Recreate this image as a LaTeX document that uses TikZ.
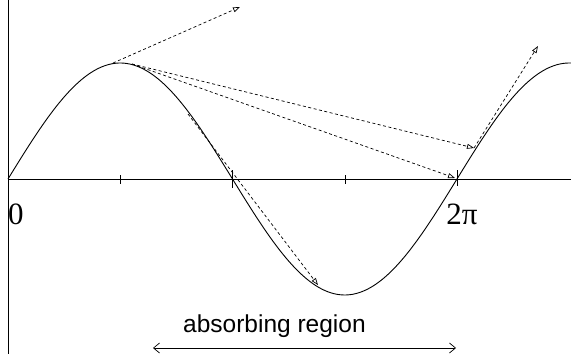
\documentclass[tikz,border=0pt]{standalone}
\usepackage{fontspec}
\setmainfont{Liberation Serif}
\newfontfamily\arialfont{Liberation Sans}
\usetikzlibrary{arrows.meta}
\begin{document}
\begin{tikzpicture}[x=1pt,y=-1pt,
  axisline/.style={line width=0.9pt},
  curveline/.style={line width=0.9pt},
  vec/.style={line width=0.7pt, dash pattern=on 3pt off 2.5pt, -{Triangle[open,length=7pt,width=5pt]}},
  lbl/.style={font=\fontsize{31}{33}\selectfont, inner sep=0pt},
  region/.style={font=\arialfont\fontsize{24.5}{28}\selectfont, inner sep=0pt}]
\useasboundingbox (0,0) rectangle (571,364);
% axes
\coordinate (ytop) at (8,0);
\coordinate (ybot) at (8,354);
\coordinate (xl) at (8,179);
\coordinate (xr) at (571,179);
\draw[axisline] (ytop) -- (ybot);
\draw[axisline] (xl) -- (xr);
% ticks
\draw[axisline] (120,175) -- (120,184);
\draw[axisline] (232,170) -- (232,188);
\draw[axisline] (345,175) -- (345,184);
\draw[axisline] (457,170) -- (457,186);
% sine curve
\draw[curveline, domain=8:571, samples=200, smooth] plot (\x,{179-116*sin((\x-8)/449*360)});
% labels
\node[lbl] (zero) at (16,214) {0};
\node[lbl] (twopi) at (462,214) {2π};
% vectors
\coordinate (p0) at (113,63);
\coordinate (p1) at (132,64);
\coordinate (a1) at (240,7);
\coordinate (a2) at (474,148);
\coordinate (a3) at (455,178);
\coordinate (p4) at (188,114);
\coordinate (a4) at (318,285);
\coordinate (a5) at (538,46);
\draw[vec] (p0) -- (a1);
\draw[vec] (p1) -- (a2);
\draw[vec] (p1) -- (a3);
\draw[vec] (p4) -- (a4);
\draw[vec] (a2) -- (a5);
% absorbing region
\node[region, anchor=base west] (reg) at (183,332) {absorbing region};
\coordinate (rl) at (153,348);
\coordinate (rr) at (456,348);
\draw[line width=0.7pt, {Straight Barb[length=6pt,width=10pt]}-{Straight Barb[length=6pt,width=10pt]}] (rl) -- (rr);
\end{tikzpicture}
\end{document}
